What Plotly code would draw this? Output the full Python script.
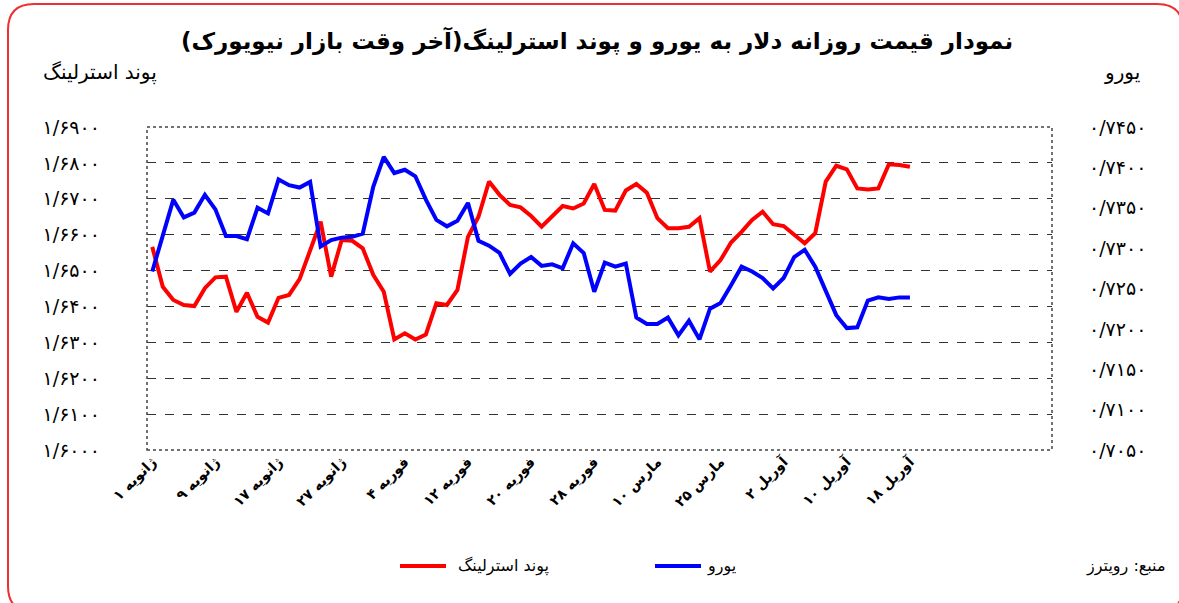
import numpy as np
import plotly.graph_objects as go

# ---------------- data ----------------
tick_labels = ["ژانویه ۱", "ژانویه ۹", "ژانویه ۱۷", "ژانویه ۲۷", "فوریه ۴", "فوریه ۱۲",
               "فوریه ۲۰", "فوریه ۲۸", "مارس ۱۰", "مارس ۲۵", "آوریل ۲", "آوریل ۱۰", "آوریل ۱۸"]
tick_step = 6

pound = [1.6566, 1.6455, 1.6418, 1.6404, 1.6401, 1.6451, 1.6481, 1.6483, 1.6385, 1.6438,
         1.6371, 1.6355, 1.6424, 1.6432, 1.6476, 1.6553, 1.6636, 1.6483, 1.6585, 1.6583,
         1.6562, 1.6488, 1.6441, 1.6308, 1.6325, 1.6308, 1.6322, 1.6409, 1.6404, 1.6446,
         1.6594, 1.6650, 1.6748, 1.6711, 1.6683, 1.6676, 1.6652, 1.6622, 1.6650, 1.6680,
         1.6673, 1.6687, 1.6741, 1.6669, 1.6667, 1.6723, 1.6741, 1.6717, 1.6646, 1.6618,
         1.6618, 1.6622, 1.6646, 1.6497, 1.6529, 1.6578, 1.6608, 1.6641, 1.6664, 1.6629,
         1.6624, 1.6599, 1.6576, 1.6604, 1.6748, 1.6792, 1.6782, 1.6729, 1.6726, 1.6729,
         1.6796, 1.6794, 1.6789]

euro = [0.7271, 0.7315, 0.7360, 0.7338, 0.7344, 0.7366, 0.7348, 0.7315, 0.7315, 0.7311,
        0.7350, 0.7343, 0.7385, 0.7378, 0.7375, 0.7382, 0.7302, 0.7310, 0.7313, 0.7314,
        0.7318, 0.7376, 0.7413, 0.7393, 0.7397, 0.7389, 0.7360, 0.7335, 0.7327, 0.7334,
        0.7356, 0.7309, 0.7303, 0.7294, 0.7268, 0.7281, 0.7289, 0.7278, 0.7280, 0.7275,
        0.7306, 0.7294, 0.7246, 0.7282, 0.7277, 0.7281, 0.7214, 0.7206, 0.7206, 0.7214,
        0.7192, 0.7210, 0.7187, 0.7225, 0.7232, 0.7254, 0.7277, 0.7271, 0.7263, 0.7250,
        0.7263, 0.7289, 0.7298, 0.7277, 0.7248, 0.7217, 0.7201, 0.7202, 0.7235, 0.7239,
        0.7237, 0.7239, 0.7239]

left_ticks = [1.60, 1.61, 1.62, 1.63, 1.64, 1.65, 1.66, 1.67, 1.68, 1.69]
left_ticktext = ["۱/۶۰۰۰", "۱/۶۱۰۰", "۱/۶۲۰۰", "۱/۶۳۰۰", "۱/۶۴۰۰", "۱/۶۵۰۰",
                 "۱/۶۶۰۰", "۱/۶۷۰۰", "۱/۶۸۰۰", "۱/۶۹۰۰"]
right_ticks = [0.705, 0.710, 0.715, 0.720, 0.725, 0.730, 0.735, 0.740, 0.745]
right_ticktext = ["۰/۷۰۵۰", "۰/۷۱۰۰", "۰/۷۱۵۰", "۰/۷۲۰۰", "۰/۷۲۵۰", "۰/۷۳۰۰",
                  "۰/۷۳۵۰", "۰/۷۴۰۰", "۰/۷۴۵۰"]

title_text = "نمودار قیمت روزانه دلار به یورو و پوند استرلینگ(آخر وقت بازار نیویورک)"
left_title = "پوند استرلینگ"
right_title = "یورو"
pound_name = "پوند استرلینگ"
euro_name = "یورو"
source_text = "منبع: رویترز"
n_slots = 86

# ---------------- layout geometry ----------------
W, H = 1179, 603
L, R, T, B = 147, 1052, 127, 450
FONT = "DejaVu Sans"


def px(x):
    return (x - L) / (R - L)


def py(y):
    return (B - y) / (B - T)


x_idx = np.arange(len(pound))
tickvals = [i * tick_step for i in range(len(tick_labels))]

fig = go.Figure()
fig.add_trace(go.Scatter(x=x_idx, y=pound, mode="lines", name=pound_name,
                         line=dict(color="#FF0000", width=4), yaxis="y"))
fig.add_trace(go.Scatter(x=x_idx, y=euro, mode="lines", name=euro_name,
                         line=dict(color="#0000FF", width=4), yaxis="y2"))

fig.update_layout(
    width=W, height=H,
    margin=dict(l=L, r=W - R, t=T, b=H - B),
    paper_bgcolor="white", plot_bgcolor="white",
    showlegend=False,
    font=dict(family=FONT, color="black"),
    xaxis=dict(range=[-0.5, n_slots - 0.5], tickvals=tickvals, ticktext=tick_labels,
               tickangle=-45, tickfont=dict(size=14, family=FONT, weight="bold"),
               showgrid=False, zeroline=False, ticks="", showline=False),
    yaxis=dict(range=[1.60, 1.69], tickvals=left_ticks, ticktext=left_ticktext,
               tickfont=dict(size=19, family=FONT), ticklabelstandoff=46,
               showgrid=True, gridcolor="#333333", griddash="dash", gridwidth=1,
               zeroline=False, ticks="", showline=False),
    yaxis2=dict(range=[0.705, 0.745], tickvals=right_ticks, ticktext=right_ticktext,
                overlaying="y", side="right",
                tickfont=dict(size=19, family=FONT), ticklabelstandoff=36,
                showgrid=False, zeroline=False, ticks="", showline=False),
)

shapes = []
# plot frame (dotted)
shapes.append(dict(type="rect", xref="paper", yref="paper", x0=0, y0=0, x1=1, y1=1,
                   line=dict(color="#444444", width=1.5, dash="dot"), layer="above"))
# rounded outer border
x0, y0, x1, y1, r = 8, 4, 1183, 612, 26
path = (f"M {px(x0 + r)} {py(y0)} L {px(x1 - r)} {py(y0)} "
        f"Q {px(x1)} {py(y0)} {px(x1)} {py(y0 + r)} "
        f"L {px(x1)} {py(y1 - r)} Q {px(x1)} {py(y1)} {px(x1 - r)} {py(y1)} "
        f"L {px(x0 + r)} {py(y1)} Q {px(x0)} {py(y1)} {px(x0)} {py(y1 - r)} "
        f"L {px(x0)} {py(y0 + r)} Q {px(x0)} {py(y0)} {px(x0 + r)} {py(y0)} Z")
shapes.append(dict(type="path", xref="paper", yref="paper", path=path,
                   line=dict(color="#F03030", width=2)))
# legend lines
shapes.append(dict(type="line", xref="paper", yref="paper", x0=px(400), x1=px(446),
                   y0=py(566), y1=py(566), line=dict(color="#FF0000", width=4)))
shapes.append(dict(type="line", xref="paper", yref="paper", x0=px(655), x1=px(701),
                   y0=py(566), y1=py(566), line=dict(color="#0000FF", width=4)))
fig.update_layout(shapes=shapes)

ann = [
    dict(text=f"<b>{title_text}</b>", x=px(597), y=py(40), size=23),
    dict(text=left_title, x=px(100), y=py(72), size=20),
    dict(text=right_title, x=px(1122), y=py(72), size=20),
    dict(text=pound_name, x=px(456), y=py(566), xanchor="left", size=16),
    dict(text=euro_name, x=px(705), y=py(566), xanchor="left", size=16),
    dict(text=source_text, x=px(1168), y=py(566), xanchor="right", size=16),
]
for a in ann:
    size = a.pop("size")
    a.setdefault("xanchor", "center")
    fig.add_annotation(xref="paper", yref="paper", showarrow=False, yanchor="middle",
                       font=dict(family=FONT, color="black", size=size), **a)

fig.write_html("out.html", config={"displayModeBar": False},
               post_script="document.body.style.margin='0px';")
